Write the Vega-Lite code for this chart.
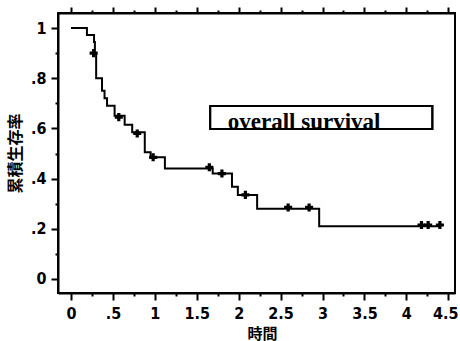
{
  "$schema": "https://vega.github.io/schema/vega-lite/v6.json",
  "width": 397,
  "height": 280,
  "autosize": {"type": "none"},
  "padding": {"left": 58, "top": 13, "right": 5, "bottom": 48},
  "background": "white",
  "config": {
    "view": {"stroke": "black", "strokeWidth": 2},
    "axis": {"domainColor": "black", "domainWidth": 2, "tickColor": "black", "tickWidth": 2, "labelColor": "black", "titleColor": "black", "grid": false,
      "labelFont": "Liberation Sans Narrow, DejaVu Sans Condensed, Liberation Sans", "labelFontWeight": "bold", "labelFontSize": 16,
      "titleFont": "Noto Sans CJK JP", "titleFontWeight": "bold"}
  },
  "datasets": {
    "steps": [
      {"t": 0, "s": 1}, {"t": 0.19, "s": 0.972}, {"t": 0.275, "s": 0.944}, {"t": 0.285, "s": 0.9},
      {"t": 0.3, "s": 0.8}, {"t": 0.37, "s": 0.75}, {"t": 0.4, "s": 0.72}, {"t": 0.43, "s": 0.69},
      {"t": 0.52, "s": 0.65}, {"t": 0.64, "s": 0.615}, {"t": 0.73, "s": 0.585}, {"t": 0.88, "s": 0.505},
      {"t": 0.95, "s": 0.485}, {"t": 1.12, "s": 0.44}, {"t": 1.69, "s": 0.42}, {"t": 1.92, "s": 0.367},
      {"t": 1.99, "s": 0.335}, {"t": 2.22, "s": 0.28}, {"t": 2.96, "s": 0.21}, {"t": 4.4, "s": 0.21}
    ],
    "censored": [
      {"t": 0.27, "s": 0.9}, {"t": 0.57, "s": 0.645}, {"t": 0.79, "s": 0.58}, {"t": 0.98, "s": 0.485},
      {"t": 1.65, "s": 0.445}, {"t": 1.8, "s": 0.42}, {"t": 2.08, "s": 0.335}, {"t": 2.59, "s": 0.285},
      {"t": 2.84, "s": 0.285}, {"t": 4.18, "s": 0.215}, {"t": 4.26, "s": 0.215}, {"t": 4.4, "s": 0.215}
    ],
    "legend": [{"x1": 1.66, "x2": 4.31, "y1": 0.598, "y2": 0.689, "tx": 1.87, "ty": 0.598, "label": "overall survival"}]
  },
  "layer": [
    {
      "data": {"name": "steps"},
      "mark": {"type": "line", "interpolate": "step-after", "color": "black", "strokeWidth": 2},
      "encoding": {
        "x": {"field": "t", "type": "quantitative", "scale": {"domain": [-0.155, 4.58], "nice": false, "zero": false},
          "axis": {"orient": "bottom", "values": [0,0.25,0.5,0.75,1,1.25,1.5,1.75,2,2.25,2.5,2.75,3,3.25,3.5,3.75,4,4.25,4.5],
            "labelExpr": "datum.value * 2 % 1 != 0 ? '' : (datum.value == 0 ? '0' : (datum.value < 1 ? '.5' : format(datum.value, '~g')))",
            "tickSize": {"condition": {"test": "datum.value * 2 % 1 != 0", "value": 3}, "value": 7},
            "labelOffset": {"condition": {"test": "datum.value == 4.5", "value": -3}, "value": 0},
            "labelPadding": 5, "labelFlush": false, "labelOverlap": false,
            "title": "時間", "titleFontSize": 15, "titlePadding": 5, "titleX": 204, "titleColor": "black"}},
        "y": {"field": "s", "type": "quantitative", "scale": {"domain": [-0.056, 1.06], "nice": false, "zero": false},
          "axis": {"orient": "left", "values": [0,0.1,0.2,0.3,0.4,0.5,0.6,0.7,0.8,0.9,1],
            "labelExpr": "round(datum.value*10) % 2 == 1 ? '' : (datum.value == 0 ? '0' : (datum.value >= 1 ? '1' : '.' + round(datum.value*10)))",
            "tickSize": {"condition": {"test": "round(datum.value*10) % 2 == 1", "value": 3}, "value": 7},
            "labelPadding": 5, "labelOverlap": false, "labelFlush": false,
            "title": "累積生存率", "titleFontSize": 16, "titlePadding": 7, "titleColor": "black"}}
      }
    },
    {
      "data": {"name": "steps"},
      "mark": {"type": "line", "opacity": 0},
      "encoding": {
        "x": {"field": "t", "type": "quantitative", "scale": {"domain": [-0.155, 4.58], "nice": false, "zero": false},
          "axis": {"orient": "top", "values": [0,0.25,0.5,0.75,1,1.25,1.5,1.75,2,2.25,2.5,2.75,3,3.25,3.5,3.75,4,4.25,4.5],
            "labels": false, "title": null,
            "tickSize": {"condition": {"test": "datum.value * 2 % 1 != 0", "value": 3}, "value": 6}}},
        "y": {"field": "s", "type": "quantitative", "scale": {"domain": [-0.056, 1.06], "nice": false, "zero": false}, "axis": null}
      }
    },
    {
      "data": {"name": "censored"},
      "mark": {"type": "point", "shape": "cross", "filled": true, "color": "black", "size": 65, "opacity": 1},
      "encoding": {
        "x": {"field": "t", "type": "quantitative", "axis": null},
        "y": {"field": "s", "type": "quantitative", "axis": null}
      }
    },
    {
      "data": {"name": "legend"},
      "mark": {"type": "rect", "fill": "white", "stroke": "black", "strokeWidth": 2},
      "encoding": {
        "x": {"field": "x1", "type": "quantitative", "axis": null},
        "x2": {"field": "x2"},
        "y": {"field": "y1", "type": "quantitative", "axis": null},
        "y2": {"field": "y2"}
      }
    },
    {
      "data": {"name": "legend"},
      "mark": {"type": "text", "align": "left", "baseline": "alphabetic", "font": "Liberation Serif", "fontWeight": "bold", "fontSize": 23, "color": "black"},
      "encoding": {
        "x": {"field": "tx", "type": "quantitative", "axis": null},
        "y": {"field": "ty", "type": "quantitative", "axis": null},
        "text": {"field": "label"}
      }
    },
    {
      "data": {"name": "legend"},
      "mark": {"type": "rect", "fill": null, "fillOpacity": 0, "stroke": "black", "strokeWidth": 2},
      "encoding": {
        "x": {"field": "x1", "type": "quantitative", "axis": null},
        "x2": {"field": "x2"},
        "y": {"field": "y1", "type": "quantitative", "axis": null},
        "y2": {"field": "y2"}
      }
    }
  ],
  "resolve": {"axis": {"x": "independent", "y": "independent"}}
}
